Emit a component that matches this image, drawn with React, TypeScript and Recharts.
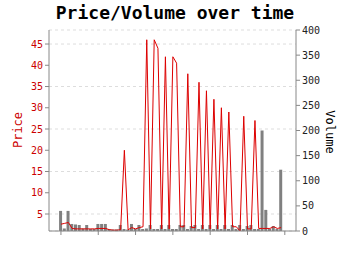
import React from "react";
import {
  ComposedChart,
  Bar,
  Line,
  XAxis,
  YAxis,
  CartesianGrid,
} from "recharts";

const FONT = "'DejaVu Sans Mono', monospace";

const prices = [
  2.6, 2.8, 3.0, 1.6, 1.5, 1.5, 1.5, 1.5, 1.5, 1.5,
  1.6, 1.6, 1.6, 1.3, 1.2, 1.2, 1.3, 20, 1.3, 1.8,
  1.5, 1.8, 2.0, 46, 1.5, 46, 44, 1.5, 42, 1.5,
  42, 40.5, 2.0, 2.0, 38, 1.8, 1.8, 36, 1.5, 34,
  1.5, 32, 1.5, 30, 1.5, 29, 2.0, 2.0, 1.0, 28,
  1.5, 1.5, 27, 1.6, 1.6, 1.6, 1.6, 2.0, 1.6, 1.8,
];

const volumes = [
  40, 5, 40, 14, 13, 12, 5, 12, 4, 4,
  14, 14, 14, 4, 3, 3, 12, 4, 3, 14,
  4, 12, 4, 5, 12, 4, 4, 12, 4, 12,
  4, 4, 12, 12, 4, 10, 12, 4, 12, 4,
  12, 4, 12, 4, 12, 4, 12, 4, 12, 4,
  10, 12, 4, 4, 200, 42, 4, 10, 4, 122,
];

const timeTicks = [0, 10, 20, 30, 40, 50, 60];
const priceTicks = [5, 10, 15, 20, 25, 30, 35, 40, 45];
const volumeTicks = [0, 50, 100, 150, 200, 250, 300, 350, 400];

const data = prices.map((p, i) => ({ t: i, price: p, volume: volumes[i] }));

const App: React.FC = () => {
  return (
    <div style={{ position: "absolute", left: 0, top: 0, width: 350, height: 255, background: "#fff" }}>
      <div
        style={{
          position: "absolute",
          left: 0,
          top: 2,
          width: 350,
          textAlign: "center",
          fontFamily: FONT,
          fontWeight: "bold",
          fontSize: 18,
          color: "#000",
        }}
      >
        Price/Volume over time
      </div>
      <div
        style={{
          position: "absolute",
          left: 18,
          top: 130,
          transform: "translate(-50%, -50%) rotate(-90deg)",
          fontFamily: FONT,
          fontSize: 12,
          color: "#cc0000",
        }}
      >
        Price
      </div>
      <div
        style={{
          position: "absolute",
          left: 330,
          top: 132,
          transform: "translate(-50%, -50%) rotate(90deg)",
          fontFamily: FONT,
          fontSize: 12,
          color: "#000",
        }}
      >
        Volume
      </div>
      <ComposedChart
        width={350}
        height={255}
        data={data}
        margin={{ top: 30, right: 0, bottom: 0, left: 0 }}
      >
        <CartesianGrid
          yAxisId="price"
          vertical={false}
          stroke="#dddddd"
          strokeDasharray="3 3"
        />
        <XAxis
          dataKey="t"
          type="number"
          domain={[-3.2, 63]}
          ticks={timeTicks}
          tickFormatter={() => ""}
          height={24}
          stroke="#888"
          tickSize={4}
        />
        <XAxis
          xAxisId="top"
          orientation="top"
          dataKey="t"
          type="number"
          domain={[-3.2, 63]}
          ticks={[]}
          tickLine={false}
          tickFormatter={() => ""}
          height={0}
          stroke="#aaa"
        />
        <YAxis
          yAxisId="price"
          orientation="left"
          domain={[1, 48.3]}
          ticks={priceTicks}
          width={49}
          stroke="#888"
          tickSize={4}
          tick={{ fill: "#cc0000", fontSize: 10, fontFamily: FONT }}
        />
        <YAxis
          yAxisId="volume"
          orientation="right"
          domain={[0, 400]}
          ticks={volumeTicks}
          width={54}
          stroke="#888"
          tickSize={4}
          tick={{ fill: "#222", fontSize: 10, fontFamily: FONT }}
        />
        <Bar
          yAxisId="volume"
          dataKey="volume"
          fill="#808080"
          barSize={3}
          isAnimationActive={false}
        />
        <Line
          yAxisId="price"
          dataKey="price"
          type="linear"
          stroke="#dd0000"
          strokeWidth={1}
          dot={false}
          isAnimationActive={false}
        />
      </ComposedChart>
    </div>
  );
};

export default App;
